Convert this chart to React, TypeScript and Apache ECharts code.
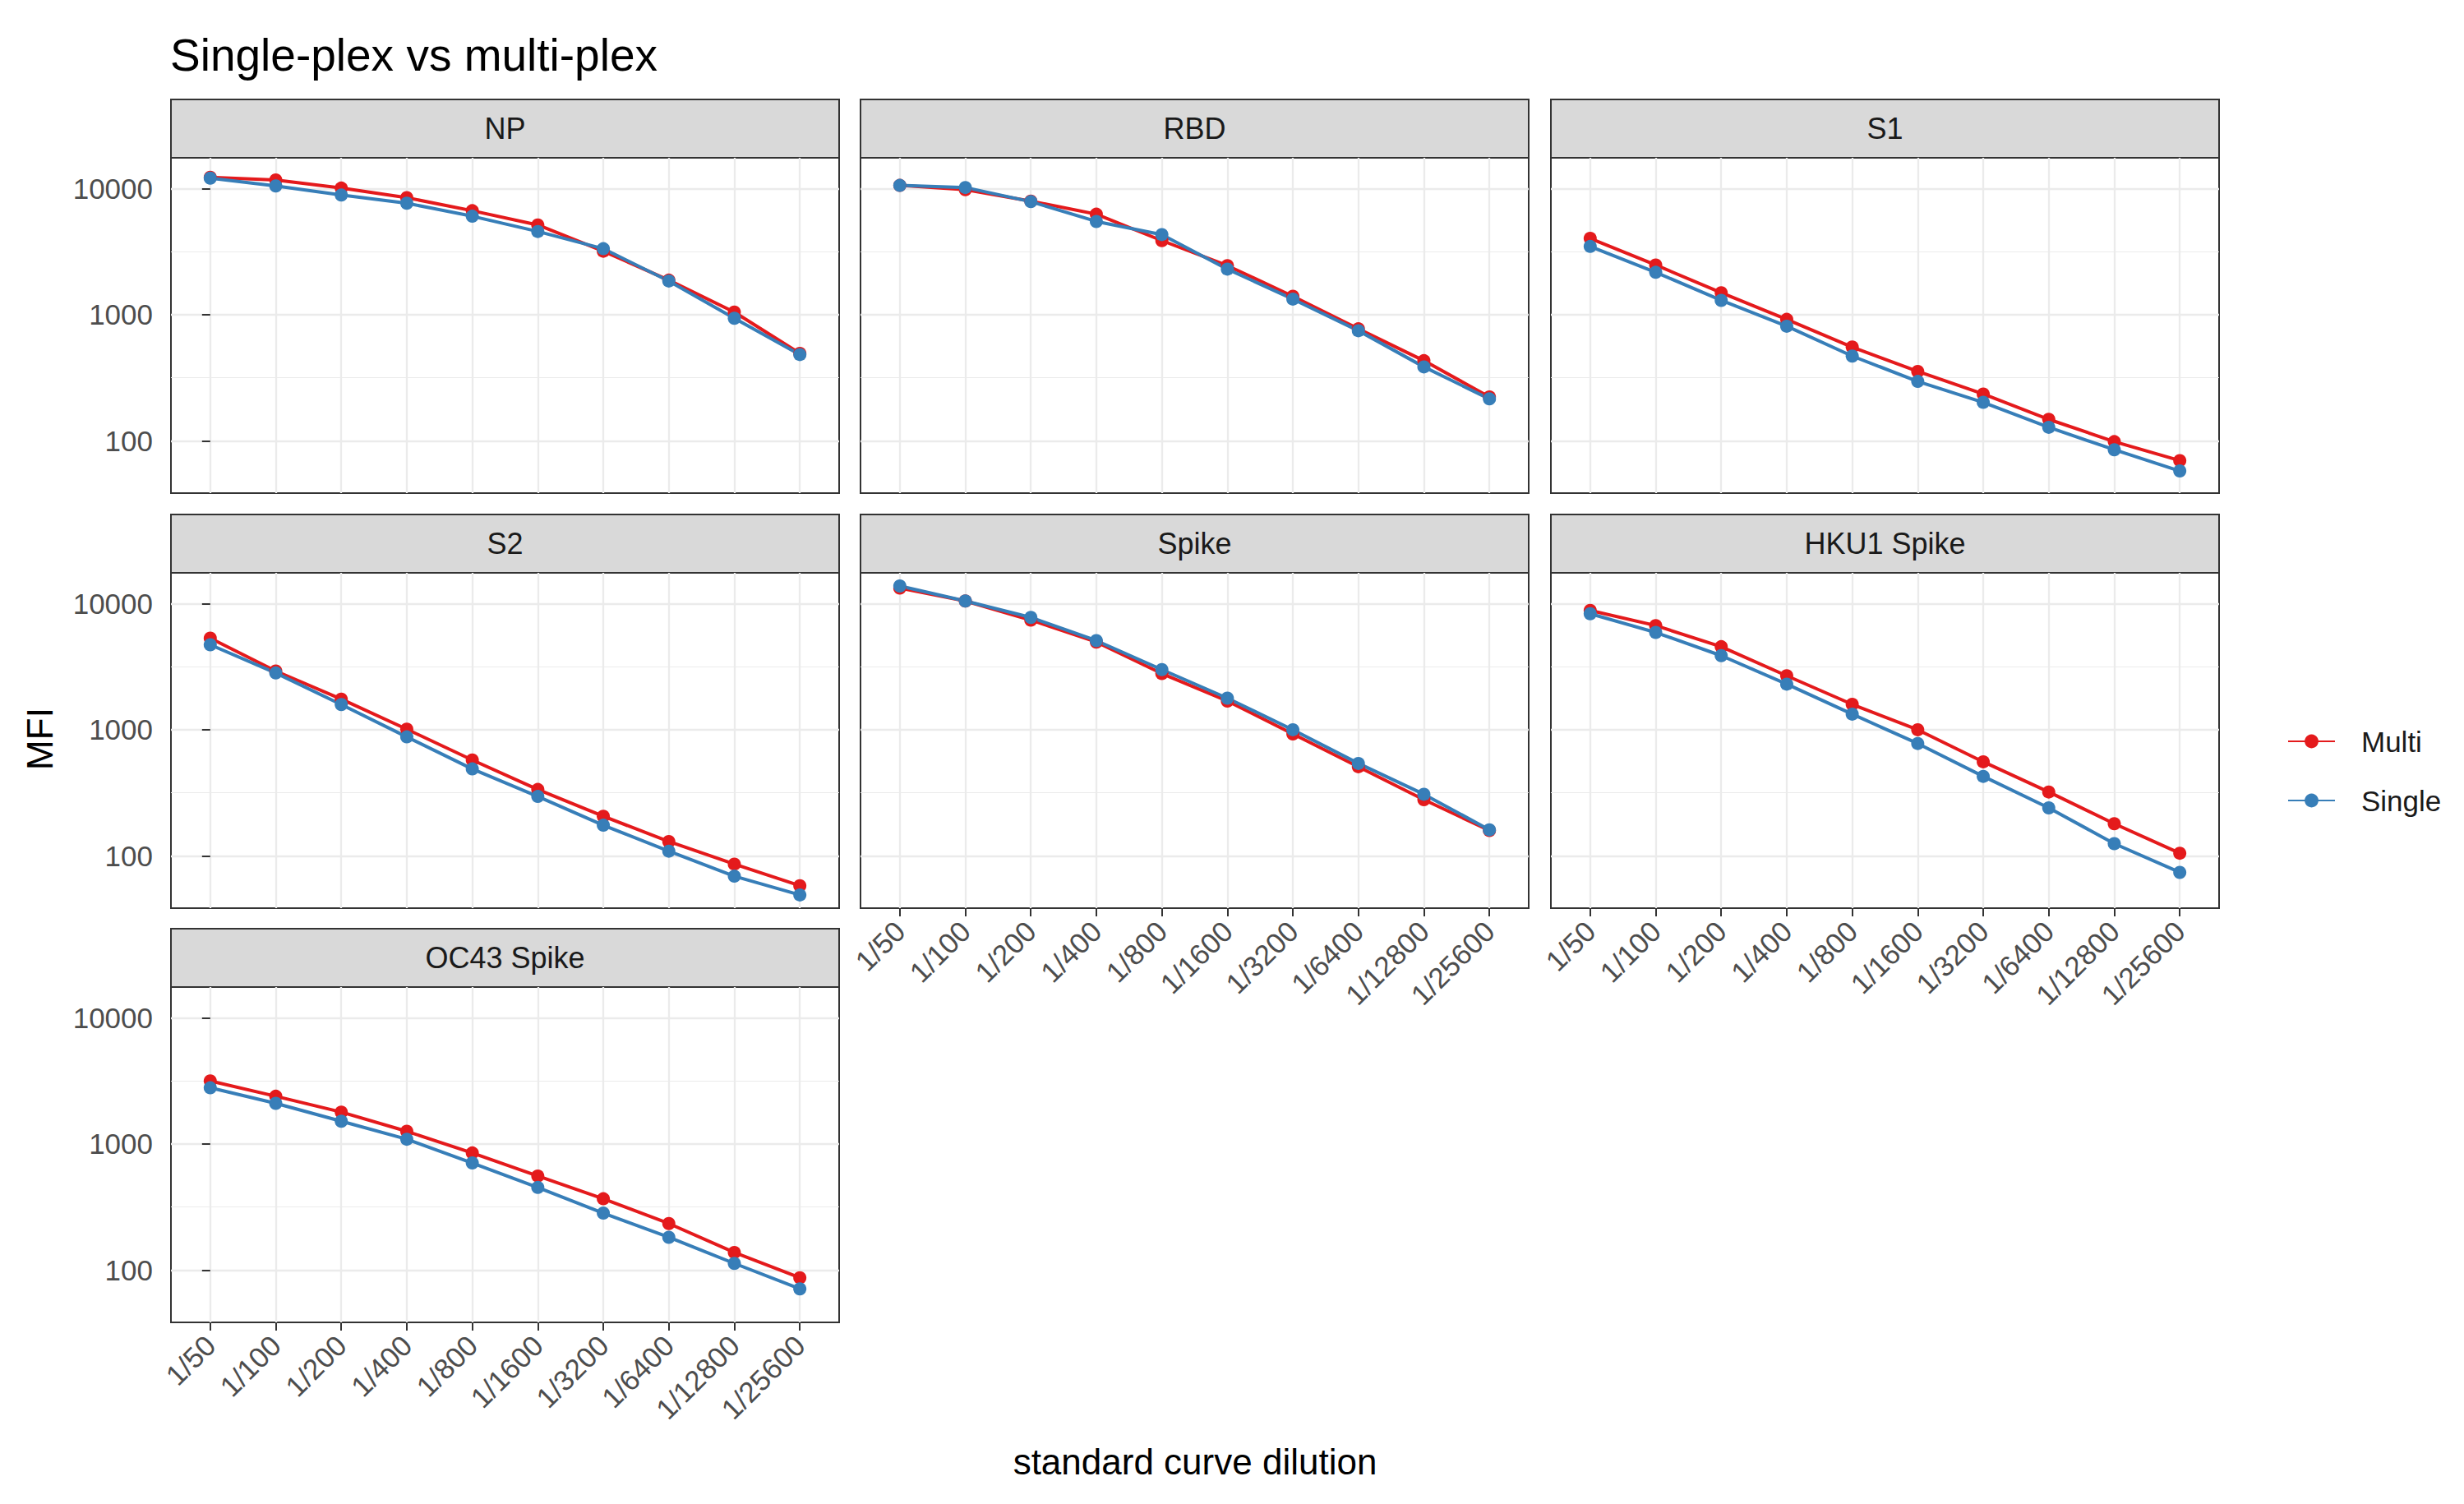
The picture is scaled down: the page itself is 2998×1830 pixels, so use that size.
import React, { useEffect, useRef } from "react";
import * as echarts from "echarts";

const dilutions = ["1/50", "1/100", "1/200", "1/400", "1/800", "1/1600", "1/3200", "1/6400", "1/12800", "1/25600"];
const panelTitles = ["NP", "RBD", "S1", "S2", "Spike", "HKU1 Spike", "OC43 Spike"];
const seriesNames = ["Multi", "Single"];
const yTickValues = [100, 1000, 10000];
const yMinorValues = [316.23, 3162.28];

const npMulti = [12300, 11700, 10100, 8470, 6680, 5150, 3190, 1880, 1050, 494];
const npSingle = [12100, 10500, 8890, 7660, 6040, 4570, 3340, 1850, 937, 483];
const rbdMulti = [10600, 9800, 7960, 6270, 3870, 2450, 1400, 773, 432, 223];
const rbdSingle = [10600, 10200, 7880, 5490, 4320, 2300, 1330, 747, 386, 215];
const s1Multi = [4030, 2480, 1495, 919, 554, 355, 235, 148, 98.6, 69.7];
const s1Single = [3480, 2170, 1300, 811, 470, 296, 202, 128, 85, 57.7];
const s2Multi = [5320, 2920, 1750, 1010, 576, 336, 206, 130, 86, 58];
const s2Single = [4720, 2820, 1585, 878, 489, 296, 175, 109, 69, 49];
const spikeMulti = [13300, 10500, 7410, 4960, 2790, 1690, 927, 509, 279, 159];
const spikeSingle = [13800, 10500, 7780, 5090, 3000, 1780, 1000, 541, 308, 161];
const hku1Multi = [8830, 6700, 4560, 2680, 1590, 1000, 557, 321, 180, 105];
const hku1Single = [8320, 5910, 3870, 2300, 1330, 778, 427, 240, 125, 74];
const oc43Multi = [3160, 2390, 1790, 1260, 849, 557, 368, 234, 138, 87];
const oc43Single = [2790, 2100, 1515, 1090, 707, 452, 283, 182, 113, 71];

const multiValues = [npMulti, rbdMulti, s1Multi, s2Multi, spikeMulti, hku1Multi, oc43Multi];
const singleValues = [npSingle, rbdSingle, s1Single, s2Single, spikeSingle, hku1Single, oc43Single];

const RED = "#E41A1C";
const BLUE = "#377EB8";
const FONT = "'Liberation Sans', Arial, Helvetica, sans-serif";

const COLS = [208, 1047, 1887];
const ROWS = [192, 697, 1201];
const PW = 813;
const PH = 408;
const STRIP = 71;
const Y_MIN = 38.5;
const Y_MAX = 17550;

export default function App() {
  const ref = useRef<HTMLDivElement>(null);

  useEffect(() => {
    const chart = echarts.init(ref.current!, null, { renderer: "svg" });
    const grids: any[] = [];
    const xAxes: any[] = [];
    const yAxes: any[] = [];
    const series: any[] = [];
    const graphics: any[] = [];
    const idx = dilutions.map((_, j) => j);

    panelTitles.forEach((title, i) => {
      const col = i % 3;
      const row = Math.floor(i / 3);
      const left = COLS[col];
      const top = ROWS[row];
      const showX = i >= 4;
      const showY = col === 0;

      grids.push({
        left,
        top,
        width: PW,
        height: PH,
        show: true,
        borderColor: "#333333",
        borderWidth: 2,
      });

      xAxes.push({
        type: "value",
        gridIndex: i,
        min: -0.6,
        max: 9.6,
        axisLine: { show: false },
        axisTick: {
          show: showX,
          customValues: idx,
          length: 10,
          lineStyle: { color: "#333333", width: 2 },
        },
        axisLabel: {
          show: showX,
          customValues: idx,
          rotate: 45,
          margin: 22,
          fontSize: 35,
          color: "#4D4D4D",
          fontFamily: FONT,
          formatter: (v: number) => dilutions[Math.round(v)],
        },
        splitLine: { show: true, lineStyle: { color: "#EBEBEB", width: 2.3 } },
      });

      yAxes.push({
        type: "log",
        logBase: 10,
        gridIndex: i,
        min: Y_MIN,
        max: Y_MAX,
        position: "left",
        axisLine: { show: false },
        axisTick: {
          show: showY,
          customValues: yTickValues,
          length: 10,
          lineStyle: { color: "#333333", width: 2 },
        },
        axisLabel: {
          show: showY,
          customValues: yTickValues,
          margin: 22,
          fontSize: 35,
          color: "#4D4D4D",
          fontFamily: FONT,
          formatter: (v: number) => String(Math.round(v)),
        },
        splitLine: { show: true, lineStyle: { color: "#EBEBEB", width: 2.3 } },
      });
      yAxes.push({
        type: "log",
        logBase: 10,
        gridIndex: i,
        min: Y_MIN,
        max: Y_MAX,
        position: "right",
        axisLine: { show: false },
        axisTick: { show: false, customValues: yMinorValues },
        axisLabel: { show: false, customValues: yMinorValues },
        splitLine: { show: true, lineStyle: { color: "#EBEBEB", width: 1.2 } },
      });

      [multiValues[i], singleValues[i]].forEach((vals, k) => {
        const color = k === 0 ? RED : BLUE;
        series.push({
          type: "line",
          name: seriesNames[k],
          xAxisIndex: i,
          yAxisIndex: 2 * i,
          data: vals.map((v, j) => [j, v]),
          symbol: "circle",
          symbolSize: 16,
          showSymbol: true,
          color,
          lineStyle: { color, width: 4 },
          itemStyle: { color },
          emphasis: { disabled: true },
        });
      });

      graphics.push({
        type: "rect",
        shape: { x: left, y: top - STRIP, width: PW, height: STRIP },
        style: { fill: "#D9D9D9", stroke: "#333333", lineWidth: 2 },
      });
      graphics.push({
        type: "text",
        x: left + PW / 2,
        y: top - STRIP / 2,
        style: {
          text: title,
          fill: "#1A1A1A",
          fontSize: 36,
          fontFamily: FONT,
          align: "center",
          verticalAlign: "middle",
        },
      });
    });

    graphics.push({
      type: "text",
      x: 207,
      y: 67,
      style: {
        text: "Single-plex vs multi-plex",
        fill: "#000000",
        fontSize: 55,
        fontFamily: FONT,
        align: "left",
        verticalAlign: "middle",
      },
    });
    graphics.push({
      type: "text",
      x: 48,
      y: 899,
      rotation: Math.PI / 2,
      style: {
        text: "MFI",
        fill: "#000000",
        fontSize: 44,
        fontFamily: FONT,
        align: "center",
        verticalAlign: "middle",
      },
    });
    graphics.push({
      type: "text",
      x: 1454,
      y: 1778,
      style: {
        text: "standard curve dilution",
        fill: "#000000",
        fontSize: 44,
        fontFamily: FONT,
        align: "center",
        verticalAlign: "middle",
      },
    });

    chart.setOption({
      animation: false,
      backgroundColor: "#ffffff",
      grid: grids,
      xAxis: xAxes,
      yAxis: yAxes,
      series,
      graphic: graphics,
      legend: {
        data: seriesNames,
        orient: "vertical",
        left: 2778,
        top: 877,
        itemWidth: 57,
        itemHeight: 21,
        itemGap: 32,
        selectedMode: false,
        textStyle: {
          fontSize: 35,
          lineHeight: 40,
          color: "#1A1A1A",
          fontFamily: FONT,
          padding: [0, 0, 0, 27],
        },
      },
    });

    return () => chart.dispose();
  }, []);

  return (
    <div
      ref={ref}
      style={{ position: "absolute", left: 0, top: 0, width: 2998, height: 1830 }}
    />
  );
}
